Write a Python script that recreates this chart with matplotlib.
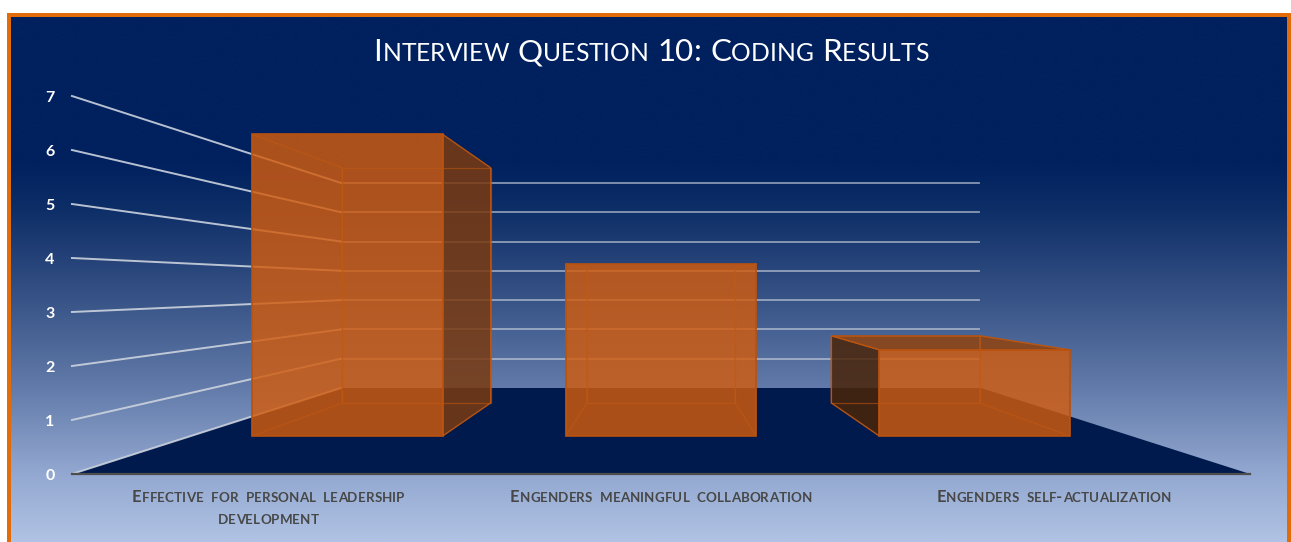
import numpy as np
import matplotlib
matplotlib.use("Agg")
import matplotlib.pyplot as plt
from matplotlib.patches import Polygon, Rectangle
from matplotlib.text import Text

TITLE = "Interview Question 10: Coding Results"
categories = ["Effective for personal leadership\ndevelopment",
              "Engenders meaningful collaboration",
              "Engenders self-actualization"]
values = [7, 4, 2]
y_ticks = [0, 1, 2, 3, 4, 5, 6, 7]

W, H = 1291, 542
CX, Y_FRONT, Y_BACK = 661, 474, 388
UNIT_FRONT, UNIT_BACK = 54.0, 29.3
SLOT, BACK_RATIO = 392.7, 0.5433
BAR_W = 0.607           # in category slots
T_NEAR, T_FAR = 0.442, 0.826   # bar depth in floor
HALF = 1.5


def proj(cat, val, t):
    """category position (slots from centre), value, depth 0..1 -> pixels"""
    s = 1 - (1 - BACK_RATIO) * t
    unit = UNIT_FRONT + (UNIT_BACK - UNIT_FRONT) * t
    return CX + cat * SLOT * s, Y_FRONT + (Y_BACK - Y_FRONT) * t - val * unit


class SmallCaps(Text):
    """Single text object drawn in small capitals with letter spacing."""
    def __init__(self, x, y, s, big, small, tracking, space, **kw):
        super().__init__(x, y, s, **kw)
        self.big, self.small, self.tracking, self.space = big, small, tracking, space

    def _layout_chars(self, renderer, line):
        out, total = [], 0.0
        for ch in line:
            up = ch.isupper() or ch.isdigit() or ch in ":-"
            size = self.big if up else self.small
            piece = Text(0, 0, ch.upper(), fontsize=size, family=self.get_fontfamily(),
                         weight=self.get_weight(), color=self.get_color(),
                         va="baseline", ha="left")
            piece.set_figure(self.get_figure())
            if ch == " ":
                w = size * self.space * 100 / 72
            else:
                w = piece.get_window_extent(renderer).width
            out.append((piece, total))
            total += w + self.tracking
        return out, total

    def draw(self, renderer):
        px_x, px_y = self.get_transform().transform((self._x, self._y))
        for i, line in enumerate(self.get_text().split("\n")):
            chars, total = self._layout_chars(renderer, line)
            x0 = px_x - total / 2
            y0 = px_y - i * 22
            for piece, dx in chars:
                piece.set_transform(matplotlib.transforms.IdentityTransform())
                piece.set_position((x0 + dx, y0))
                piece.draw(renderer)


fig = plt.figure(figsize=(W / 100, H / 100), dpi=100, facecolor="white")
ax = fig.add_axes([0, 0, 1, 1])
ax.set_xlim(0, W)
ax.set_ylim(H, 0)
ax.axis("off")

# background gradient
ys = np.linspace(0, H, 400)
stops = [0, 150, 200, 280, 380, 470, 542]
rgb = np.array([[0, 32, 94], [0, 32, 94], [14, 46, 104], [50, 78, 130],
                [96, 121, 168], [146, 167, 208], [176, 195, 228]]) / 255
grad = np.stack([np.interp(ys, stops, rgb[:, i]) for i in range(3)], axis=1)[:, None, :]
ax.imshow(grad, extent=(9, 1289, H, 15), aspect="auto", zorder=0, interpolation="bilinear")
ax.set_xlim(0, W)
ax.set_ylim(H, 0)
for r in [(7, 13, 4, H - 13), (7, 13, 1284, 4), (1287, 13, 4, H - 13)]:
    ax.add_patch(Rectangle((r[0], r[1]), r[2], r[3], fc="#e36c0a", ec="none", zorder=1))

# floor
ax.add_patch(Polygon([proj(-HALF, 0, 0), proj(HALF, 0, 0), proj(HALF, 0, 1), proj(-HALF, 0, 1)],
                     fc="#001a4d", ec="none", zorder=1))

# walls
GRID = "#ccd3de"
for v in y_ticks:
    a, b, c = proj(-HALF, v, 0), proj(-HALF, v, 1), proj(1.49, v, 1)
    ax.plot([a[0], b[0]], [a[1], b[1]], color=GRID, lw=1.4, alpha=0.9, zorder=2)
    if v > 0:
        ax.plot([b[0], c[0]], [b[1], c[1]], color=GRID, lw=1.3, alpha=0.65, zorder=2)
    ax.text(50, a[1] + 1.5, str(v), color="white", fontsize=11.5, fontweight="bold",
            family="Lato", ha="center", va="center", zorder=6)
a, b = proj(-HALF, 0, 0), proj(HALF, 0, 0)
ax.plot([a[0], b[0]], [a[1], b[1]], color="#4d4d4d", lw=1.6, zorder=3)

# bars
EDGE = "#b9520f"
for i, val in enumerate(values):
    cat = i - 1
    l, r = cat - BAR_W / 2, cat + BAR_W / 2
    fbl, fbr, ftr, ftl = proj(l, 0, T_NEAR), proj(r, 0, T_NEAR), proj(r, val, T_NEAR), proj(l, val, T_NEAR)
    bbl, bbr, btr, btl = proj(l, 0, T_FAR), proj(r, 0, T_FAR), proj(r, val, T_FAR), proj(l, val, T_FAR)
    z = 4
    # faces visible outside the front
    if btl[0] < ftl[0]:
        ax.add_patch(Polygon([fbl, bbl, btl, ftl], fc="#4a2408", ec=EDGE, lw=0.9, alpha=0.85, zorder=z))
    if btr[0] > ftr[0]:
        ax.add_patch(Polygon([fbr, bbr, btr, ftr], fc="#7a3a10", ec=EDGE, lw=0.9, alpha=0.85, zorder=z))
    if btl[1] < ftl[1]:
        ax.add_patch(Polygon([ftl, ftr, btr, btl], fc="#8c4515", ec=EDGE, lw=0.9, alpha=0.9, zorder=z))
    ax.add_patch(Polygon([fbl, fbr, ftr, ftl], fc="#d25c0e", ec="none", alpha=0.82, zorder=z + 0.1))
    # see-through edges
    for p in ([bbl, bbr, btr, btl], [fbl, bbl, btl, ftl], [fbr, bbr, btr, ftr]):
        ax.add_patch(Polygon(p, fc="none", ec="#c25a12", lw=0.9, alpha=0.55, zorder=z + 0.15))
    ax.add_patch(Polygon([fbl, fbr, ftr, ftl], fc="none", ec=EDGE, lw=1.2, zorder=z + 0.2))

    lx, _ = proj(cat, 0, 0)
    ax.add_artist(SmallCaps(lx, 502, categories[i], 12.0, 9.6, 0.1, 0.55, color="#474747",
                            family="Lato", weight="bold", zorder=6, transform=ax.transData))

ax.add_artist(SmallCaps(651, 61, TITLE, 22.6, 17.7, 0.0, 0.36, color="white",
                        family="Lato", zorder=6, transform=ax.transData))

fig.savefig("out.png", dpi=100, facecolor="white")
